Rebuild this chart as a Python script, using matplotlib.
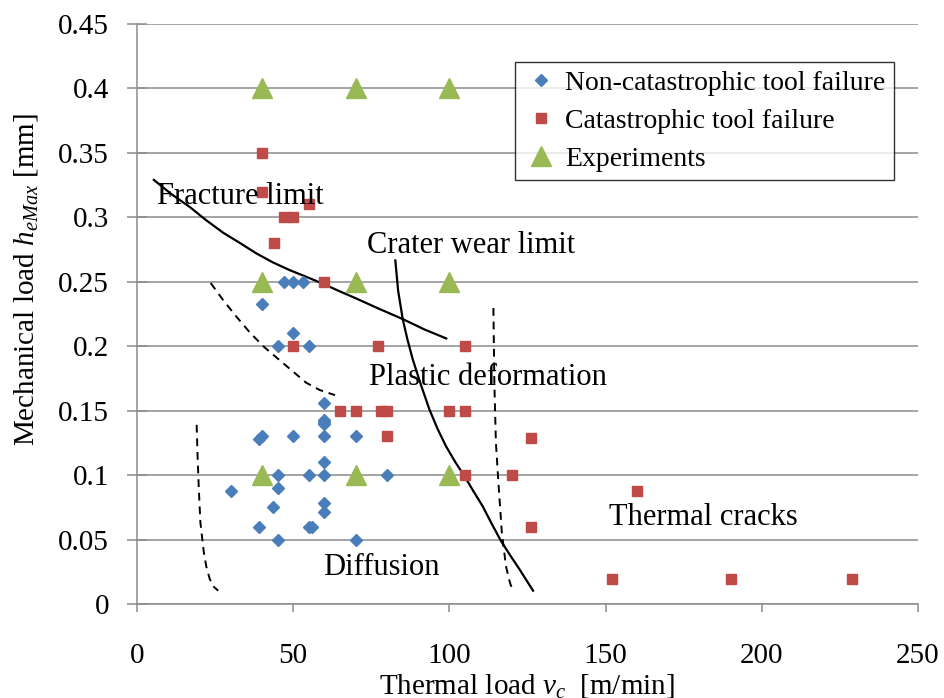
import matplotlib.pyplot as plt
import numpy as np

plt.rcParams['font.family'] = ['Liberation Serif', 'DejaVu Serif']
plt.rcParams['mathtext.fontset'] = 'custom'
plt.rcParams['mathtext.rm'] = 'Liberation Serif'
plt.rcParams['mathtext.it'] = 'Liberation Serif:italic'

# Non-catastrophic tool failure (vc, h)
nc_x = [47, 50, 53, 40, 50, 45, 55, 60, 60, 60, 60, 39, 40, 50, 60, 70, 60,
        45, 55, 60, 30, 45, 43.5, 60, 60, 39, 55, 56, 45, 70, 80]
nc_y = [0.25, 0.25, 0.25, 0.233, 0.21, 0.2, 0.2, 0.156, 0.143, 0.14, 0.141, 0.128, 0.13, 0.13, 0.13, 0.13, 0.11,
        0.1, 0.1, 0.1, 0.088, 0.09, 0.075, 0.078, 0.071, 0.06, 0.06, 0.06, 0.05, 0.05, 0.1]

# Catastrophic tool failure
cat_x = [40, 40, 55, 47, 50, 44, 60, 50, 77, 105, 65, 70, 78, 80, 100, 105,
         80, 126, 105, 120, 126, 160, 152, 190, 229]
cat_y = [0.35, 0.32, 0.31, 0.3, 0.3, 0.28, 0.25, 0.2, 0.2, 0.2, 0.15, 0.15, 0.15, 0.15, 0.15, 0.15,
         0.13, 0.129, 0.1, 0.1, 0.06, 0.088, 0.019, 0.019, 0.019]

# Experiments
exp_x = [40, 70, 100, 40, 70, 100, 40, 70, 100]
exp_y = [0.4, 0.4, 0.4, 0.25, 0.25, 0.25, 0.1, 0.1, 0.1]

# boundary curves
fracture_x = [5.4, 11, 16.9, 22, 27.6, 33, 38.2, 43.5, 48.9, 54, 59, 64.5, 70.2, 77.5, 85.1, 92, 99]
fracture_y = [0.329, 0.318, 0.308, 0.298, 0.288, 0.28, 0.272, 0.265, 0.259, 0.254, 0.249, 0.243, 0.237,
              0.229, 0.221, 0.213, 0.206]

crater_x = [82.7, 83.6, 85.1, 86.6, 88.3, 90.9, 93.6, 96.2, 98.9, 101.8, 104.8, 107.7, 110.6, 113.5,
            116.5, 119.4, 122.4, 126.8]
crater_y = [0.2665, 0.243, 0.2206, 0.205, 0.1896, 0.17, 0.151, 0.136, 0.1225, 0.1105, 0.0993, 0.0875,
            0.0761, 0.0625, 0.049, 0.038, 0.0271, 0.0103]

plastic_x = [23.6, 27.5, 31.8, 36, 40.4, 46.7, 54.2, 58.5, 63.4]
plastic_y = [0.249, 0.236, 0.223, 0.211, 0.2, 0.187, 0.1716, 0.166, 0.162]

diffusion_x = [19.1, 19.4, 19.8, 20.3, 21.4, 22.2, 23.3, 24.5, 26]
diffusion_y = [0.139, 0.1148, 0.089, 0.0632, 0.04, 0.029, 0.0193, 0.0135, 0.0103]

thermal_x = [114.1, 114.4, 114.9, 115.7, 116.8, 118.1, 119, 119.7, 121.1]
thermal_y = [0.2296, 0.1716, 0.1252, 0.0942, 0.0555, 0.0296, 0.02, 0.0142, 0.0103]

fig = plt.figure(figsize=(9.44, 6.98), dpi=100)
ax = fig.add_axes([0.1451, 0.1347, 0.8273, 0.8310])

ax.plot(fracture_x, fracture_y, color='black', lw=1.6)
ax.plot(crater_x, crater_y, color='black', lw=1.6)
for xs, ys in [(plastic_x, plastic_y), (diffusion_x, diffusion_y), (thermal_x, thermal_y)]:
    ax.plot(xs, ys, color='black', lw=1.4, linestyle=(0, (4, 3)))

ax.plot(nc_x, nc_y, 'D', color='#4A7EBB', markersize=6, linestyle='none',
        label='Non-catastrophic tool failure', zorder=3)
ax.plot(cat_x, cat_y, 's', color='#BE4B48', markersize=7.5, linestyle='none',
        label='Catastrophic tool failure', zorder=3)
ax.plot(exp_x, exp_y, '^', color='#98B954', markersize=15, linestyle='none',
        label='Experiments', zorder=3)

fs = 21
ax.text(6.5, 0.316, 'Fracture limit', fontsize=22, va='center')
ax.text(73.5, 0.278, 'Crater wear limit', fontsize=22, va='center')
ax.text(74.4, 0.176, 'Plastic deformation', fontsize=22, va='center')
ax.text(151, 0.067, 'Thermal cracks', fontsize=22, va='center')
ax.text(59.7, 0.0285, 'Diffusion', fontsize=22, va='center')

ax.set_xlim(0, 250)
ax.set_ylim(0, 0.45)
ax.set_xticks([0, 50, 100, 150, 200, 250])
ax.set_yticks(np.arange(0, 0.451, 0.05))
ax.set_yticklabels(['0', '0.05', '0.1', '0.15', '0.2', '0.25', '0.3', '0.35', '0.4', '0.45'])

ax.grid(axis='y', color='#8C8C8C', lw=1.1)
ax.set_axisbelow(True)
for s in ['top', 'right']:
    ax.spines[s].set_visible(False)
for s in ['left', 'bottom']:
    ax.spines[s].set_color('#8C8C8C')
    ax.spines[s].set_linewidth(1.1)

ax.tick_params(axis='x', direction='out', length=6, width=1.1, color='#8C8C8C', pad=22, labelsize=fs)
ax.tick_params(axis='y', direction='inout', length=14, width=1.1, color='#8C8C8C', pad=13, labelsize=fs)

ax.set_ylabel('Mechanical load $h_{eMax}$ [mm]', fontsize=fs)
ax.yaxis.set_label_coords(-0.124, 0.56)
ax.set_xlabel('Thermal load $v_c$  [m/min]', fontsize=fs)
ax.xaxis.set_label_coords(0.499, -0.117)

leg = ax.legend(loc='upper left', bbox_to_anchor=(515 / 944, 1 - 62 / 698), bbox_transform=fig.transFigure,
                fontsize=20, frameon=True, fancybox=False, borderpad=0.3, labelspacing=0.45,
                handletextpad=0.2, handlelength=1.3, borderaxespad=0)
leg.get_frame().set_edgecolor('black')
leg.get_frame().set_linewidth(1.0)

fig.savefig('out.png', dpi=100)
